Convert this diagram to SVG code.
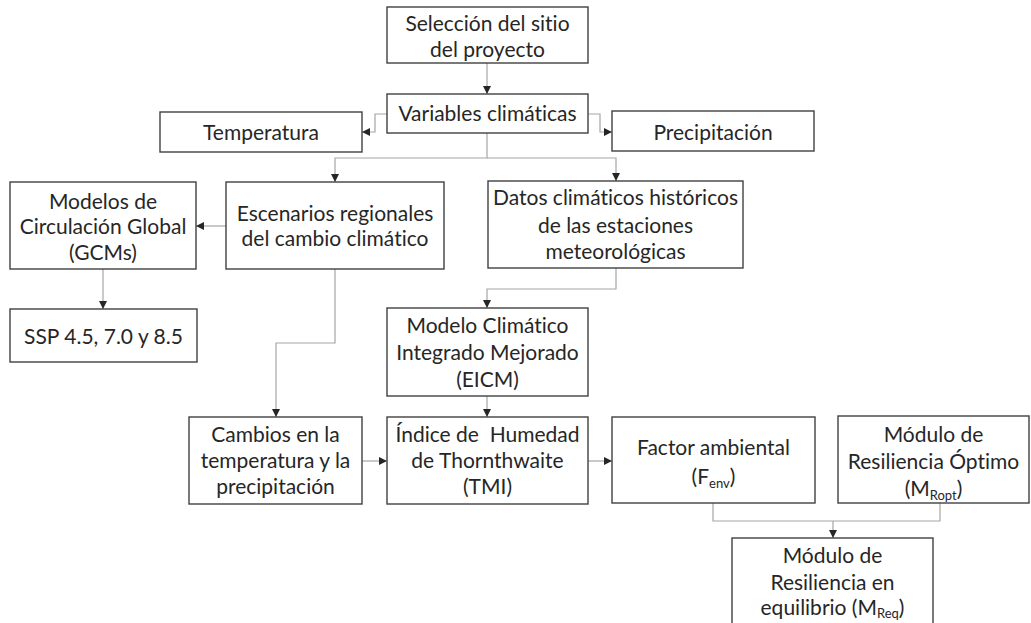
<svg xmlns="http://www.w3.org/2000/svg" width="1031" height="623" viewBox="0 0 1031 623">
<style>
.box{fill:#fff;stroke:#404040;stroke-width:1.4}
.c{fill:none;stroke:#a6a6a6;stroke-width:1.2}
text{font-family:Lato,"Open Sans","Liberation Sans",sans-serif;font-size:21px;fill:#262626;text-anchor:middle;font-variant-ligatures:none}
.sub{font-size:13px}
</style>
<defs>
<marker id="ah" viewBox="0 0 10 10" refX="10" refY="5" markerWidth="8" markerHeight="8" markerUnits="userSpaceOnUse" orient="auto">
<path d="M0,0 L10,5 L0,10 z" fill="#262626"/>
</marker>
</defs>
<g id="connectors">
<path class="c" d="M487,63 V94" marker-end="url(#ah)"/>
<path class="c" d="M387,114 H375 V132 H362" marker-end="url(#ah)"/>
<path class="c" d="M588,114 H600 V132 H612" marker-end="url(#ah)"/>
<path class="c" d="M487,133 V158 H335 V182" marker-end="url(#ah)"/>
<path class="c" d="M487,158 H616 V181" marker-end="url(#ah)"/>
<path class="c" d="M226,226 H196" marker-end="url(#ah)"/>
<path class="c" d="M103,269 V309" marker-end="url(#ah)"/>
<path class="c" d="M616,268 V289 H487 V308" marker-end="url(#ah)"/>
<path class="c" d="M335,269 V343 H276 V417" marker-end="url(#ah)"/>
<path class="c" d="M487,396 V417" marker-end="url(#ah)"/>
<path class="c" d="M362,461 H387" marker-end="url(#ah)"/>
<path class="c" d="M588,461 H612" marker-end="url(#ah)"/>
<path class="c" d="M713,503 V521 H940 V503"/>
<path class="c" d="M833,521 V538" marker-end="url(#ah)"/>
</g>
<g id="n1"><rect class="box" x="387" y="7" width="201" height="56"/><text x="487.5" y="31">Selección del sitio</text><text x="487.5" y="57">del proyecto</text></g>
<g id="n2"><rect class="box" x="387" y="94" width="201" height="39"/><text x="487.5" y="121">Variables climáticas</text></g>
<g id="n3"><rect class="box" x="160" y="112" width="202" height="40"/><text x="261" y="140">Temperatura</text></g>
<g id="n4"><rect class="box" x="612" y="111" width="202" height="40"/><text x="713" y="140">Precipitación</text></g>
<g id="n5"><rect class="box" x="10" y="182" width="186" height="87"/><text x="103" y="209">Modelos de</text><text x="103" y="234">Circulación Global</text><text x="103" y="260">(GCMs)</text></g>
<g id="n6"><rect class="box" x="226" y="182" width="218" height="87"/><text x="335" y="221">Escenarios regionales</text><text x="335" y="246">del cambio climático</text></g>
<g id="n7"><rect class="box" x="488" y="181" width="255" height="87"/><text x="615.5" y="205">Datos climáticos históricos</text><text x="615.5" y="233">de las estaciones</text><text x="615.5" y="259">meteorológicas</text></g>
<g id="n8"><rect class="box" x="10" y="309" width="187" height="53"/><text x="103.5" y="344">SSP 4.5, 7.0 y 8.5</text></g>
<g id="n9"><rect class="box" x="387" y="308" width="201" height="88"/><text x="487.5" y="333">Modelo Climático</text><text x="487.5" y="360">Integrado Mejorado</text><text x="487.5" y="387">(EICM)</text></g>
<g id="n10"><rect class="box" x="189" y="417" width="173" height="87"/><text x="275.5" y="442">Cambios en la</text><text x="275.5" y="468">temperatura y la</text><text x="275.5" y="494">precipitación</text></g>
<g id="n11"><rect class="box" x="387" y="417" width="201" height="87"/><text x="487.5" y="442" style="white-space:pre">Índice de  Humedad</text><text x="487.5" y="468">de Thornthwaite</text><text x="487.5" y="494">(TMI)</text></g>
<g id="n12"><rect class="box" x="612" y="417" width="203" height="86"/><text x="713.5" y="455">Factor ambiental</text><text x="713.5" y="484">(F<tspan class="sub" dy="4">env</tspan><tspan dy="-4">)</tspan></text></g>
<g id="n13"><rect class="box" x="838" y="416" width="191" height="87"/><text x="933.5" y="442">Módulo de</text><text x="933.5" y="469">Resiliencia Óptimo</text><text x="933.5" y="496">(M<tspan class="sub" dy="4">Ropt</tspan><tspan dy="-4">)</tspan></text></g>
<g id="n14"><rect class="box" x="732" y="538" width="201" height="90"/><text x="832.5" y="563">Módulo de</text><text x="832.5" y="590">Resiliencia en</text><text x="832.5" y="615">equilibrio (M<tspan class="sub" dy="3">Req</tspan><tspan dy="-3">)</tspan></text></g>
</svg>
